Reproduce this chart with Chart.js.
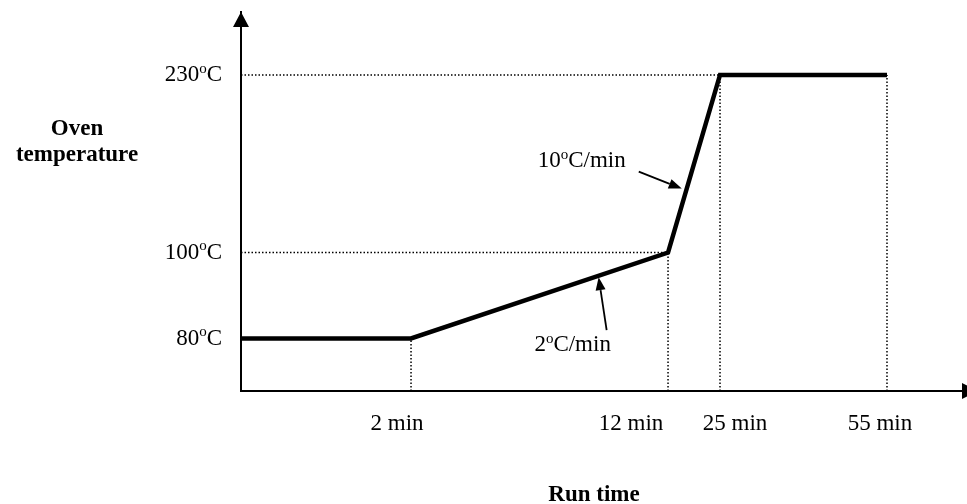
<!DOCTYPE html>
<html>
<head>
<meta charset="utf-8">
<script src="https://cdn.jsdelivr.net/npm/chart.js@4/dist/chart.umd.min.js"></script>
<style>
  html, body { margin: 0; padding: 0; background: #ffffff; }
  #wrap { width: 967px; height: 504px; position: relative; }
</style>
</head>
<body>
<div id="wrap"><canvas id="c"></canvas></div>
<script>
// ---------- data ----------
const runTimes = [0, 2, 12, 25, 55];          // min
const ovenTemps = [80, 80, 100, 230, 230];    // degC
const xTickTimes = [2, 12, 25, 55];
const xTickLabels = ['2 min', '12 min', '25 min', '55 min'];
const yTickTemps = [80, 100, 230];
const yTickLabels = ['80ᵒC', '100ᵒC', '230ᵒC'];
const rateLabels = ['2ᵒC/min', '10ᵒC/min'];
const yTitleLines = ['Oven', 'temperature'];
const xTitle = 'Run time';

// ---------- schematic (piece-wise) linear scale ----------
class SchematicScale extends Chart.LinearScale {
  _dec(v) {
    const b = this.options.breaks, f = this.options.fractions;
    if (v <= b[0]) return f[0];
    for (let i = 1; i < b.length; i++) {
      if (v <= b[i]) return f[i - 1] + (v - b[i - 1]) / (b[i] - b[i - 1]) * (f[i] - f[i - 1]);
    }
    return f[f.length - 1];
  }
  getPixelForValue(v) { return this.getPixelForDecimal(this._dec(v)); }
  getValueForPixel(p) {
    const d = this.getDecimalForPixel(p);
    const b = this.options.breaks, f = this.options.fractions;
    for (let i = 1; i < f.length; i++) {
      if (d <= f[i]) return b[i - 1] + (d - f[i - 1]) / (f[i] - f[i - 1]) * (b[i] - b[i - 1]);
    }
    return b[b.length - 1];
  }
}
SchematicScale.id = 'schematic';
SchematicScale.defaults = Chart.LinearScale.defaults;
Chart.register(SchematicScale);

// ---------- datasets built from the arrays ----------
const profile = runTimes.map((t, i) => ({ x: t, y: ovenTemps[i] }));
const guides = [];
for (let i = 1; i < runTimes.length; i++) {
  guides.push([{ x: runTimes[i], y: 0 }, { x: runTimes[i], y: ovenTemps[i] }]);
  if (ovenTemps[i] !== ovenTemps[i - 1]) {
    guides.push([{ x: 0, y: ovenTemps[i] }, { x: runTimes[i], y: ovenTemps[i] }]);
  }
}

const FONT = "'Liberation Serif', 'Times New Roman', serif";
const FS = 23;

function drawRich(ctx, str, x, cy, align, size, bold) {
  const parts = str.split('ᵒ');
  const w = bold ? 'bold ' : '';
  const fMain = w + size + 'px ' + FONT;
  const supSize = Math.round(size * 0.64);
  const fSup = w + supSize + 'px ' + FONT;
  const pieces = [];
  parts.forEach((p, i) => {
    if (i > 0) pieces.push({ t: 'o', f: fSup, sup: true });
    if (p) pieces.push({ t: p, f: fMain, sup: false });
  });
  let total = 0;
  pieces.forEach(pc => { ctx.font = pc.f; pc.w = ctx.measureText(pc.t).width; total += pc.w; });
  let sx = align === 'right' ? x - total : align === 'center' ? x - total / 2 : x;
  const base = cy + size * 0.33;
  ctx.textBaseline = 'alphabetic';
  ctx.textAlign = 'left';
  pieces.forEach(pc => {
    ctx.font = pc.f;
    ctx.fillText(pc.t, sx, pc.sup ? base - size * 0.36 : base);
    sx += pc.w;
  });
}

function arrow(ctx, x1, y1, x2, y2, len, half, lw) {
  const a = Math.atan2(y2 - y1, x2 - x1);
  const bx = x2 - len * Math.cos(a), by = y2 - len * Math.sin(a);
  ctx.lineWidth = lw;
  ctx.beginPath(); ctx.moveTo(x1, y1); ctx.lineTo(bx, by); ctx.stroke();
  ctx.beginPath();
  ctx.moveTo(x2, y2);
  ctx.lineTo(bx + half * Math.sin(a), by - half * Math.cos(a));
  ctx.lineTo(bx - half * Math.sin(a), by + half * Math.cos(a));
  ctx.closePath(); ctx.fill();
}

const decorPlugin = {
  id: 'decor',
  afterDatasetsDraw(chart, args, opts) {
    const ctx = chart.ctx, xs = chart.scales.x, ys = chart.scales.y, ca = chart.chartArea;
    ctx.save();
    ctx.fillStyle = '#000'; ctx.strokeStyle = '#000';
    // axis arrowheads
    const ax = xs.getPixelForValue(0), ay = ys.getPixelForValue(0);
    ctx.beginPath();
    ctx.moveTo(ax, ca.top); ctx.lineTo(ax - 8, ca.top + 15); ctx.lineTo(ax + 8, ca.top + 15); ctx.closePath(); ctx.fill();
    ctx.beginPath();
    ctx.moveTo(ca.right - 5 + 16, ay); ctx.lineTo(ca.right - 5, ay - 8); ctx.lineTo(ca.right - 5, ay + 8); ctx.closePath(); ctx.fill();
    // y tick labels
    yTickTemps.forEach((v, i) => drawRich(ctx, yTickLabels[i], ax - opts.yLabelGap, ys.getPixelForValue(v) - 1.5, 'right', FS, false));
    // x tick labels
    xTickTimes.forEach((v, i) => drawRich(ctx, xTickLabels[i], xs.getPixelForValue(v) + opts.xLabelShift[i], ay + 31, 'center', FS, false));
    // axis titles
    yTitleLines.forEach((s, i) => drawRich(ctx, s, opts.yTitleX, opts.yTitleY + i * 26, 'center', FS, true));
    drawRich(ctx, xTitle, opts.xTitleX, opts.xTitleY, 'center', FS, true);
    // rate annotations
    opts.notes.forEach(n => {
      const i = n.seg;
      const p0x = xs.getPixelForValue(runTimes[i]), p0y = ys.getPixelForValue(ovenTemps[i]);
      const p1x = xs.getPixelForValue(runTimes[i + 1]), p1y = ys.getPixelForValue(ovenTemps[i + 1]);
      const tx = p0x + (p1x - p0x) * n.t + n.tipDx, ty = p0y + (p1y - p0y) * n.t + n.tipDy;
      const sx = tx + n.tailDx, sy = ty + n.tailDy;
      arrow(ctx, sx, sy, tx, ty, 13, 5, 1.8);
      drawRich(ctx, rateLabels[n.label], sx + n.textDx, sy + n.textDy, n.align, FS, false);
    });
    ctx.restore();
  }
};

const guideSets = guides.map(g => ({
  data: g, borderColor: '#000', borderWidth: 1.5, borderDash: [1.5, 2],
  pointRadius: 0, fill: false, order: 2, tension: 0
}));

new Chart(document.getElementById('c'), {
  type: 'line',
  data: {
    datasets: [
      { data: profile, borderColor: '#000', borderWidth: 4.5, pointRadius: 0, fill: false, order: 0,
        tension: 0, borderJoinStyle: 'miter', borderCapStyle: 'butt' },
      ...guideSets
    ]
  },
  options: {
    responsive: true,
    maintainAspectRatio: false,
    animation: false,
    events: [],
    layout: { padding: { top: 12, right: 0, left: 0, bottom: 0 } },
    plugins: {
      legend: { display: false },
      tooltip: { enabled: false },
      decor: {
        yLabelGap: 19,
        xLabelShift: [-14, -37, 15, -7],
        yTitleX: 77, yTitleY: 127,
        xTitleX: 594, xTitleY: 493,
        notes: [
          { label: 1, seg: 2, t: 0.36, tipDx: -5, tipDy: 0, tailDx: -43, tailDy: -17, textDx: -13, textDy: -12, align: 'right' },
          { label: 0, seg: 1, t: 0.73, tipDx: 0, tipDy: 1.5, tailDx: 8, tailDy: 53, textDx: -34, textDy: 13, align: 'center' }
        ]
      }
    },
    scales: {
      x: {
        type: 'schematic', min: 0, max: 60,
        breaks: [0, 2, 12, 25, 55, 60],
        fractions: [0, 0.2342, 0.5882, 0.6598, 0.8898, 1],
        grid: { display: false, drawTicks: false },
        ticks: { display: false },
        border: { display: true, color: '#000', width: 2 },
        afterFit: s => { s.height = 113; }
      },
      y: {
        type: 'schematic', min: 0, max: 260,
        breaks: [0, 80, 100, 230, 260],
        fractions: [0, 0.1385, 0.3654, 0.8338, 1],
        grid: { display: false, drawTicks: false },
        ticks: { display: false },
        border: { display: true, color: '#000', width: 2 },
        afterFit: s => { s.width = 241; }
      }
    }
  },
  plugins: [decorPlugin]
});
</script>
</body>
</html>
